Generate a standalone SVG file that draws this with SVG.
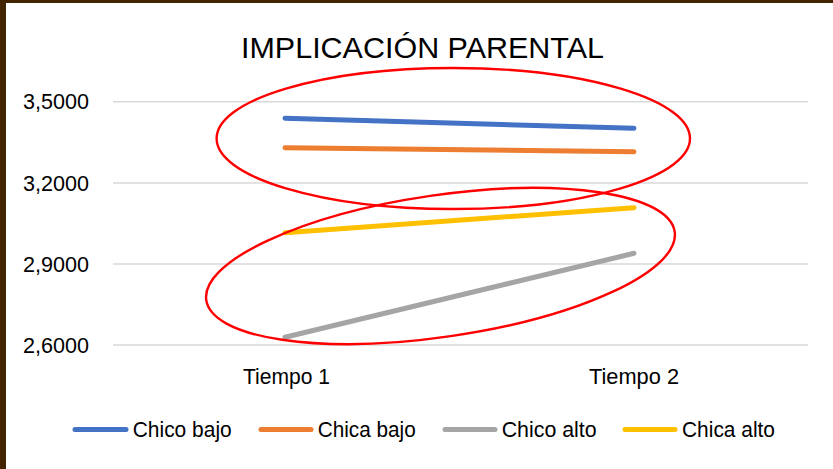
<svg xmlns="http://www.w3.org/2000/svg" width="833" height="469" viewBox="0 0 833 469">
<style>
text{font-family:"Liberation Sans",Arial,sans-serif;fill:#000}
.lbl{font-size:22px}
.grid{stroke:#d9d9d9;stroke-width:1.4}
.ser{stroke-width:5;stroke-linecap:round;fill:none}
.ell{fill:none;stroke:#ff0000;stroke-width:2.4}
</style>
<rect x="0" y="0" width="833" height="469" fill="#ffffff"/>
<rect x="0" y="0" width="833" height="3" fill="#432400"/>
<rect x="0" y="0" width="6" height="469" fill="#432400"/>
<text x="422.5" y="57.5" font-size="29" text-anchor="middle" textLength="363" lengthAdjust="spacingAndGlyphs">IMPLICACIÓN PARENTAL</text>
<g id="grid">
<line class="grid" x1="113" y1="101.7" x2="808" y2="101.7"/>
<line class="grid" x1="113" y1="183" x2="808" y2="183"/>
<line class="grid" x1="113" y1="264" x2="808" y2="264"/>
<line class="grid" x1="113" y1="345" x2="808" y2="345"/>
</g>
<g id="yaxis" class="lbl" text-anchor="end">
<text x="89" y="109.2" textLength="66" lengthAdjust="spacingAndGlyphs">3,5000</text>
<text x="89" y="190.5" textLength="66" lengthAdjust="spacingAndGlyphs">3,2000</text>
<text x="89" y="271.5" textLength="66" lengthAdjust="spacingAndGlyphs">2,9000</text>
<text x="89" y="352.5" textLength="66" lengthAdjust="spacingAndGlyphs">2,6000</text>
</g>
<g id="xaxis" class="lbl" text-anchor="middle">
<text x="286.5" y="384" textLength="87" lengthAdjust="spacingAndGlyphs">Tiempo 1</text>
<text x="634" y="384" textLength="90" lengthAdjust="spacingAndGlyphs">Tiempo 2</text>
</g>
<g id="series">
<line class="ser" stroke="#4472c4" x1="285" y1="118.3" x2="634" y2="128.3"/>
<line class="ser" stroke="#ed7d31" x1="285" y1="147.7" x2="634" y2="151.7"/>
<line class="ser" stroke="#a5a5a5" x1="285" y1="337.3" x2="634" y2="253.3"/>
<line class="ser" stroke="#ffc000" x1="285" y1="232.7" x2="634" y2="207.7"/>
</g>
<g id="highlights">
<ellipse class="ell" cx="453.3" cy="138.5" rx="236.7" ry="70.5"/>
<ellipse class="ell" cx="440.5" cy="266" rx="236.7" ry="70.9" transform="rotate(-8.3 440.5 266)"/>
</g>
<g id="legend" class="lbl">
<line class="ser" stroke="#4472c4" x1="75" y1="429.5" x2="126" y2="429.5"/>
<text x="132.7" y="437" textLength="99" lengthAdjust="spacingAndGlyphs">Chico bajo</text>
<line class="ser" stroke="#ed7d31" x1="261" y1="429.5" x2="311" y2="429.5"/>
<text x="317.7" y="437" textLength="98" lengthAdjust="spacingAndGlyphs">Chica bajo</text>
<line class="ser" stroke="#a5a5a5" x1="445" y1="429.5" x2="495" y2="429.5"/>
<text x="501.7" y="437" textLength="95" lengthAdjust="spacingAndGlyphs">Chico alto</text>
<line class="ser" stroke="#ffc000" x1="625" y1="429.5" x2="675" y2="429.5"/>
<text x="682" y="437" textLength="93" lengthAdjust="spacingAndGlyphs">Chica alto</text>
</g>
</svg>
